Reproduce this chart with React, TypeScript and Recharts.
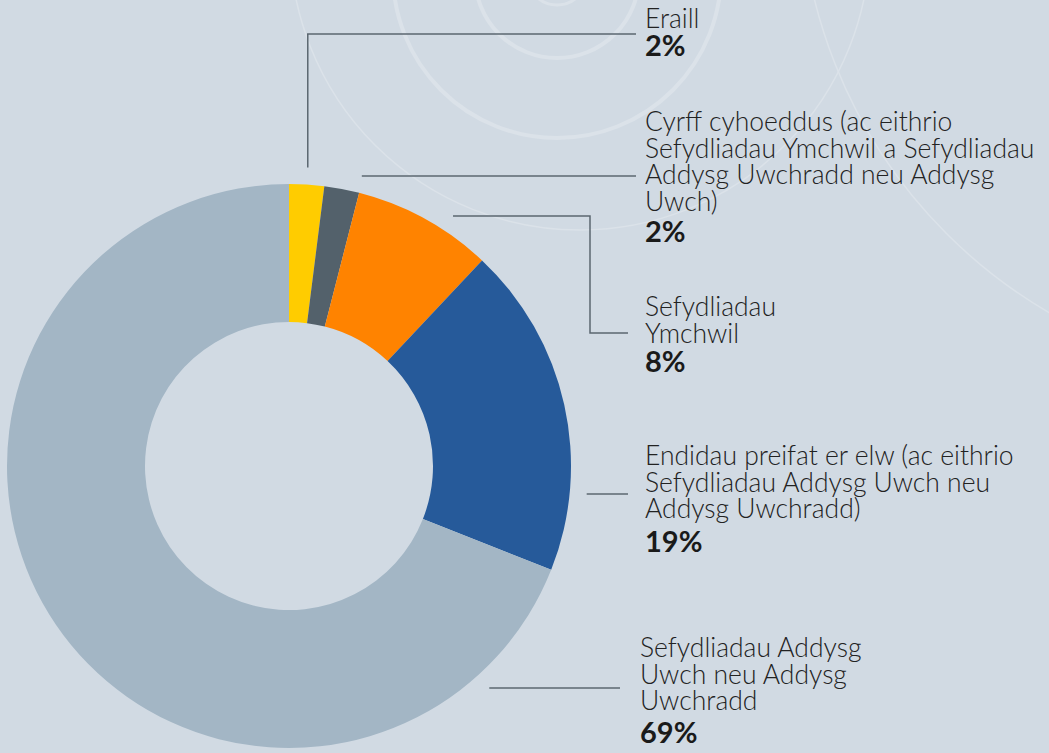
import { PieChart, Pie, Cell } from "recharts";

// categories & values (share of total, %)
const names = [
  "Eraill",
  "Cyrff cyhoeddus",
  "Sefydliadau Ymchwil",
  "Endidau preifat er elw",
  "Sefydliadau Addysg Uwch neu Addysg Uwchradd",
];
const values = [2, 2, 8, 19, 69];
const colors = ["#ffcc00", "#53616b", "#ff8300", "#265a9a", "#a3b6c5"];

// wrapped label text, one array per slice
const labelText = [
  ["Eraill"],
  [
    "Cyrff cyhoeddus (ac eithrio",
    "Sefydliadau Ymchwil a Sefydliadau",
    "Addysg Uwchradd neu Addysg",
    "Uwch)",
  ],
  ["Sefydliadau", "Ymchwil"],
  [
    "Endidau preifat er elw (ac eithrio",
    "Sefydliadau Addysg Uwch neu",
    "Addysg Uwchradd)",
  ],
  ["Sefydliadau Addysg", "Uwch neu Addysg", "Uwchradd"],
];

const data = names.map((name, i) => ({ name, value: values[i] }));

// where each callout sits (layout only)
type Layout = {
  kind: "v" | "h" | "elbow";
  ly: number;
  ly2?: number;
  elbowX?: number;
  endX: number;
  tx: number;
  ty: number;
  pctDy: number;
};
const layout: Layout[] = [
  { kind: "v", ly: 34, endX: 636, tx: 645, ty: 28, pctDy: 28 },
  { kind: "h", ly: 176, endX: 636, tx: 645, ty: 131, pctDy: 31 },
  { kind: "elbow", ly: 216, elbowX: 590, ly2: 333, endX: 628, tx: 645, ty: 316, pctDy: 29 },
  { kind: "h", ly: 494, endX: 628, tx: 645, ty: 465, pctDy: 34 },
  { kind: "h", ly: 688, endX: 620, tx: 640, ty: 657, pctDy: 33 },
];

const RAD = Math.PI / 180;
const LINE_H = 26.5;
const FONT = "Lato, 'Open Sans', sans-serif";

const renderLabel = (props: any) => {
  const { cx, cy, outerRadius, midAngle, index, value } = props;
  const L = layout[index];
  const r = outerRadius + 17;
  let pts: [number, number][] = [];
  if (L.kind === "v") {
    const sx = cx + r * Math.cos(-midAngle * RAD);
    const sy = cy + r * Math.sin(-midAngle * RAD);
    pts = [
      [sx, sy],
      [sx, L.ly],
      [L.endX, L.ly],
    ];
  } else {
    const dy = L.ly - cy;
    const sx = cx + Math.sqrt(Math.max(r * r - dy * dy, 0));
    if (L.kind === "h") {
      pts = [
        [sx, L.ly],
        [L.endX, L.ly],
      ];
    } else {
      pts = [
        [sx, L.ly],
        [L.elbowX!, L.ly],
        [L.elbowX!, L.ly2!],
        [L.endX, L.ly2!],
      ];
    }
  }
  const lines = labelText[index];
  const lastY = L.ty + (lines.length - 1) * LINE_H;
  return (
    <g key={`lbl-${index}`}>
      <polyline
        points={pts.map((p) => p.join(",")).join(" ")}
        fill="none"
        stroke="#5b6770"
        strokeWidth={1.5}
      />
      <text fontFamily={FONT} fontSize={26.5} fill="#222" fontWeight={300}>
        {lines.map((t, i) => (
          <tspan key={i} x={L.tx} y={L.ty + i * LINE_H}>
            {t}
          </tspan>
        ))}
      </text>
      <text
        x={L.tx}
        y={lastY + L.pctDy}
        fontFamily={FONT}
        fontSize={29}
        fontWeight={700}
        fill="#1a1a1a"
      >
        {value}%
      </text>
    </g>
  );
};

export default function App() {
  return (
    <div
      style={{
        position: "absolute",
        top: 0,
        left: 0,
        width: 1049,
        height: 753,
        background: "#d1dae3",
        overflow: "hidden",
      }}
    >
      {/* faint decorative rings */}
      <svg
        width={1049}
        height={753}
        style={{ position: "absolute", top: 0, left: 0 }}
      >
        <g fill="none" stroke="#dbe2e9">
          <circle cx={557} cy={-25} r={30} strokeWidth={3} />
          <circle cx={557} cy={-24} r={82} strokeWidth={4} />
          <circle cx={557} cy={-26} r={164} strokeWidth={4} />
          <circle cx={580} cy={-60} r={290} strokeWidth={1.5} />
          <circle cx={1300} cy={-120} r={500} strokeWidth={1.5} />
        </g>
      </svg>
      <div style={{ position: "absolute", top: 0, left: 0 }}>
        <PieChart width={1049} height={753} margin={{ top: 0, right: 0, bottom: 0, left: 0 }}>
          <Pie
            data={data}
            dataKey="value"
            nameKey="name"
            cx={289}
            cy={466}
            innerRadius={144}
            outerRadius={282}
            startAngle={90}
            endAngle={-270}
            stroke="none"
            labelLine={false}
            label={renderLabel}
            isAnimationActive={false}
          >
            {data.map((_, i) => (
              <Cell key={i} fill={colors[i]} />
            ))}
          </Pie>
        </PieChart>
      </div>
    </div>
  );
}
